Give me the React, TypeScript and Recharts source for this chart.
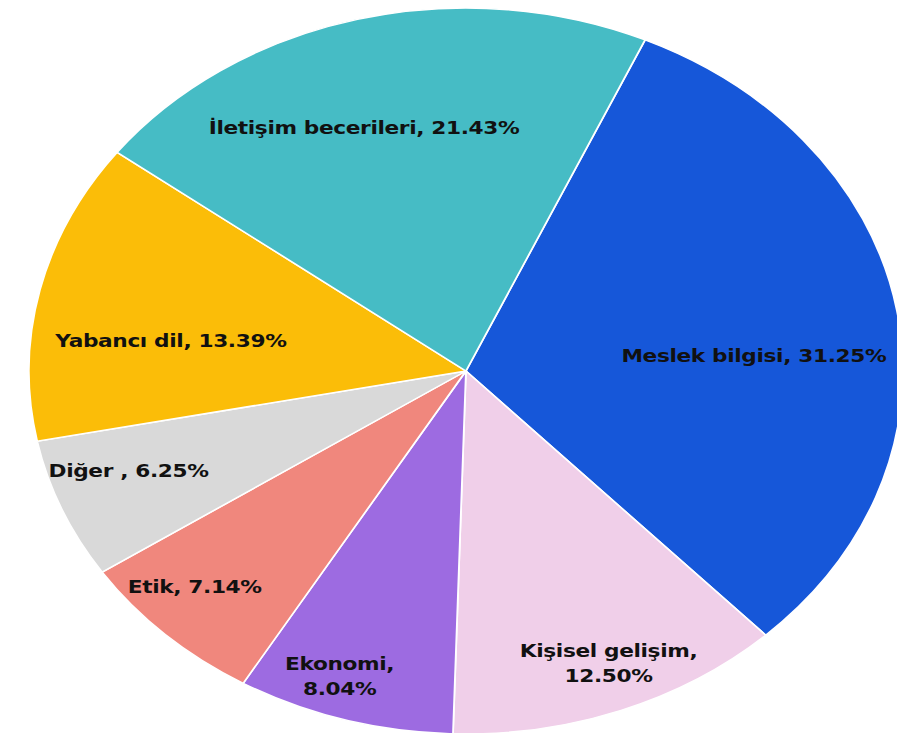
import React from 'react';
import { PieChart, Pie, Cell } from 'recharts';

const categories = ['Meslek bilgisi', 'Kişisel gelişim', 'Ekonomi', 'Etik', 'Diğer ', 'Yabancı dil', 'İletişim becerileri'];
const values = [31.25, 12.5, 8.04, 7.14, 6.25, 13.39, 21.43];
const valueLabels = ['31.25%', '12.50%', '8.04%', '7.14%', '6.25%', '13.39%', '21.43%'];
const colors = ['#1657d9', '#f0cfe9', '#9d6be1', '#f0877d', '#d9d9d9', '#fbbd08', '#46bcc5'];

// label layout tweaks (style): radius fraction, angle offset (deg, clockwise), split into two lines
const labelLayout = [
  { r: 0.66, da: 6, twoLine: false },
  { r: 0.86, da: -1.5, twoLine: true },
  { r: 0.88, da: 3, twoLine: true },
  { r: 0.86, da: 2.7, twoLine: false },
  { r: 0.82, da: 2.7, twoLine: false },
  { r: 0.68, da: -6, twoLine: false },
  { r: 0.71, da: -4.8, twoLine: false },
];

const data = categories.map((name, i) => ({ name, value: values[i], pct: valueLabels[i] }));

const SX = 1.204;
const RADIAN = Math.PI / 180;

const renderLabel = (props: any) => {
  const { cx, cy, midAngle, outerRadius, index } = props;
  const lay = labelLayout[index];
  const ang = (midAngle - lay.da) * RADIAN;
  const r = outerRadius * lay.r;
  const x = cx + r * Math.cos(ang);
  const y = cy - r * Math.sin(ang);
  const d = data[index];
  const common = {
    fill: '#111',
    fontFamily: 'DejaVu Sans, sans-serif',
    fontWeight: 700,
    fontSize: 18,
    letterSpacing: -0.3,
    textAnchor: 'middle' as const,
  };
  if (lay.twoLine) {
    return (
      <text x={x} y={y} {...common}>
        <tspan x={x} dy={-3}>{d.name},</tspan>
        <tspan x={x} dy={25}>{d.pct}</tspan>
      </text>
    );
  }
  return (
    <text x={x} y={y} dy={6} {...common}>
      {d.name}, {d.pct}
    </text>
  );
};

export default function App() {
  return (
    <div style={{ position: 'absolute', left: 0, top: 0, width: 897, height: 733, overflow: 'hidden', background: '#fff' }}>
      <div style={{ transform: `scaleX(${SX})`, transformOrigin: '0 0', width: 745, height: 733 }}>
        <PieChart width={745} height={733}>
          <Pie
            data={data}
            dataKey="value"
            nameKey="name"
            cx={382}
            cy={366}
            outerRadius={363}
            startAngle={65.8}
            endAngle={-294.2}
            stroke="#ffffff"
            strokeWidth={1.5}
            label={renderLabel}
            labelLine={false}
            isAnimationActive={false}
          >
            {data.map((d, i) => (
              <Cell key={d.name} fill={colors[i]} />
            ))}
          </Pie>
        </PieChart>
      </div>
    </div>
  );
}
